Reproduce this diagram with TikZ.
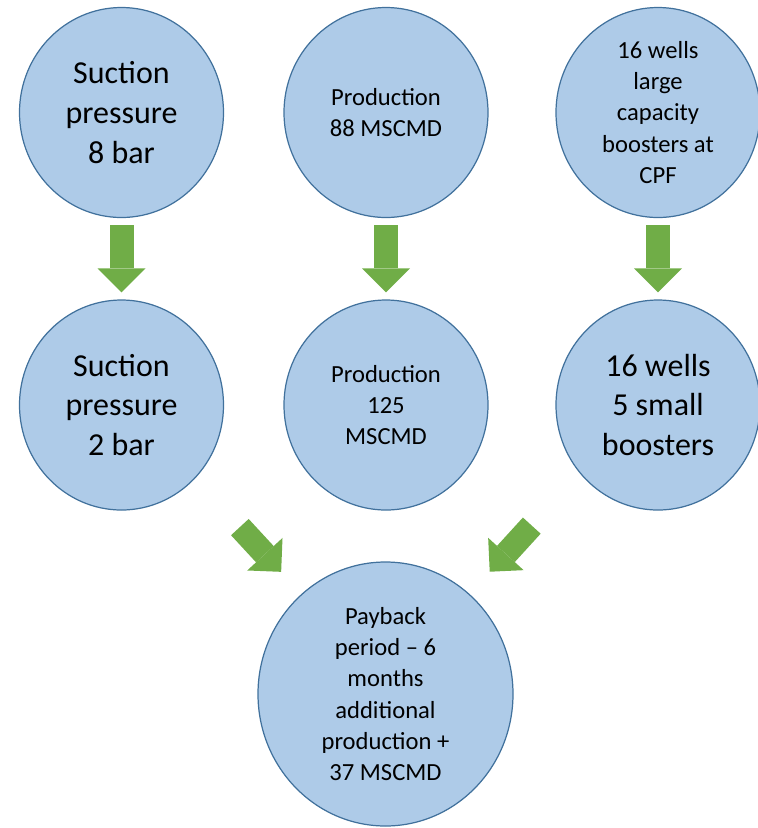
\documentclass[tikz,border=0pt]{standalone}
\usepackage{fontspec}
\setmainfont{Carlito}
\usetikzlibrary{arrows.meta,shapes.geometric}
\definecolor{bubbleFill}{RGB}{174,203,232}
\definecolor{bubbleLine}{RGB}{65,113,156}
\definecolor{arrowGreen}{RGB}{112,173,71}

\begin{document}
\begin{tikzpicture}[
    bubble/.style={ellipse, draw=bubbleLine, fill=bubbleFill, line width=0.7pt,
      minimum width=4.08cm, minimum height=4.2cm, inner sep=0pt, align=center},
    bigtxt/.style={font=\fontsize{18.2}{22.7}\selectfont},
    smalltxt/.style={font=\fontsize{14}{17.7}\selectfont},
    fatarrow/.style={arrowGreen, line width=0.48cm,
      -{Triangle[length=0.48cm, width=0.96cm, line width=0pt]}}
  ]
  \useasboundingbox (0,0) rectangle (15.14,-16.56);
  % before
  \node[bubble, bigtxt] (s1) at (2.43,-2.25) {Suction\\pressure\\8 bar};
  \node[bubble, smalltxt] (p1) at (7.72,-2.25) {Production\\88 MSCMD};
  \node[bubble, smalltxt] (w1) at (13.16,-2.25) {16 wells\\large\\capacity\\boosters at\\CPF};
  % after
  \node[bubble, bigtxt] (s2) at (2.43,-8.10) {Suction\\pressure\\2 bar};
  \node[bubble, smalltxt] (p2) at (7.72,-8.10) {Production\\125\\MSCMD};
  \node[bubble, bigtxt] (w2) at (13.16,-8.10) {16 wells\\5 small\\boosters};
  % result
  \node[bubble, smalltxt, minimum width=5.1cm, minimum height=5.28cm] (pay) at (7.71,-13.88)
    {Payback\\period -- 6\\months\\additional\\production +\\37 MSCMD};
  \foreach \a/\b in {s1/s2, p1/p2, w1/w2}{
    \draw[fatarrow, shorten <=0.14cm, shorten >=0.14cm] (\a) -- (\b);}
  \draw[fatarrow, shorten <=1.32cm, shorten >=0.6cm] (s2.-45) -- (pay.130);
  \draw[fatarrow, shorten <=1.42cm, shorten >=0.6cm] (w2.221) -- (pay.50);
\end{tikzpicture}
\end{document}
